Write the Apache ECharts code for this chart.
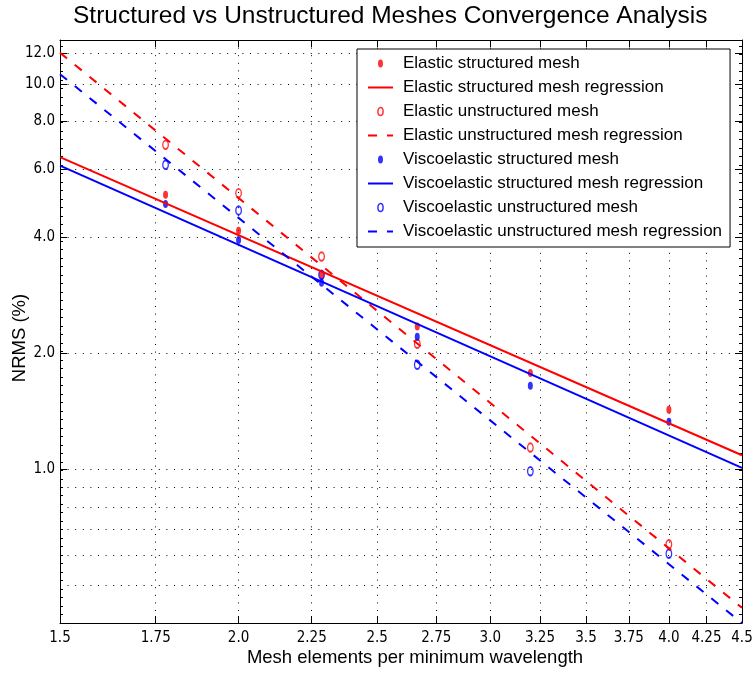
<!DOCTYPE html>
<html><head><meta charset="utf-8">
<script src="https://cdn.jsdelivr.net/npm/echarts@6/dist/echarts.min.js"></script>
<style>html,body{margin:0;padding:0;background:#fff}#c{width:752px;height:680px}</style>
</head><body><div id="c"></div>
<script>
// ---- data ----
const xValues = [1.778, 2.0, 2.286, 2.667, 3.2, 4.0];
const elasticStructured   = [5.16, 4.16, 3.20, 2.35, 1.78, 1.43];
const elasticUnstructured = [6.95, 5.21, 3.57, 2.12, 1.14, 0.64];
const viscoStructured     = [4.88, 3.94, 3.05, 2.21, 1.65, 1.33];
const viscoUnstructured   = [6.17, 4.70, 3.20, 1.87, 0.99, 0.605];
const fitX = [1.5, 4.5];
const elasticStructuredFit   = [6.46, 1.089];
const elasticUnstructuredFit = [12.05, 0.438];
const viscoStructuredFit     = [6.14, 1.01];
const viscoUnstructuredFit   = [10.6, 0.40];
const xTickValues = [1.5, 1.75, 2.0, 2.25, 2.5, 2.75, 3.0, 3.25, 3.5, 3.75, 4.0, 4.25, 4.5];
const xTickLabels = ['1.5','1.75','2.0','2.25','2.5','2.75','3.0','3.25','3.5','3.75','4.0','4.25','4.5'];
const yTickValues = [1, 2, 4, 6, 8, 10, 12];
const yTickLabels = ['1.0','2.0','4.0','6.0','8.0','10.0','12.0'];
const yMinorGridValues = [0.5, 0.6, 0.7, 0.8, 0.9];
const xRange = [1.5, 4.5];
const yRange = [0.4, 13];
const seriesNames = [
  'Elastic structured mesh',
  'Elastic structured mesh regression',
  'Elastic unstructured mesh',
  'Elastic unstructured mesh regression',
  'Viscoelastic structured mesh',
  'Viscoelastic structured mesh regression',
  'Viscoelastic unstructured mesh',
  'Viscoelastic unstructured mesh regression'
];

// ---- build ----
const L = Math.log10;
const RED = '#ff0000', BLUE = '#0000ff';
const SANS = "'Liberation Sans', Arial, Helvetica, sans-serif";
const NARROW = "'Liberation Sans Narrow', 'DejaVu Sans Condensed', 'Liberation Sans', sans-serif";
const FILLED = 'path://M0,4A2.5,4 0 1,1 5,4A2.5,4 0 1,1 0,4Z';
const OPEN = 'path://M0,4.25A2.75,4.25 0 1,1 5.5,4.25A2.75,4.25 0 1,1 0,4.25Z';
const pts = (xs, ys) => xs.map((x, i) => [L(x), L(ys[i])]);
const xTickLogs = xTickValues.map(L);
const yTickLogs = yTickValues.map(L);
const yGridLogs = yMinorGridValues.concat(yTickValues).map(L);
const lab = (logs, labels) => v => {
  const i = logs.findIndex(t => Math.abs(t - v) < 1e-6);
  return i >= 0 ? labels[i] : '';
};
const dotted = {color: '#000', width: 1, type: [1, 6.6]};
const blackLine = {color: '#000', width: 1};

function filled(name, ys, c) {
  return {type: 'scatter', name, data: pts(xValues, ys), symbol: 'circle', symbolSize: [5, 8],
    itemStyle: {color: c}};
}
function open(name, ys, c) {
  return {type: 'scatter', name, data: pts(xValues, ys), symbol: 'circle', symbolSize: [5.5, 8.5],
    itemStyle: {color: 'rgba(0,0,0,0)', borderColor: c, borderWidth: 1.6}};
}
function fit(name, ys, c, dashed) {
  return {type: 'line', name, data: pts(fitX, ys), symbol: 'none', showSymbol: false,
    itemStyle: {color: c},
    lineStyle: {color: c, width: 2, type: dashed ? [9, 10] : 'solid'}};
}

const series = [
  filled(seriesNames[0], elasticStructured, RED),
  fit(seriesNames[1], elasticStructuredFit, RED, false),
  open(seriesNames[2], elasticUnstructured, RED),
  fit(seriesNames[3], elasticUnstructuredFit, RED, true),
  filled(seriesNames[4], viscoStructured, BLUE),
  fit(seriesNames[5], viscoStructuredFit, BLUE, false),
  open(seriesNames[6], viscoUnstructured, BLUE),
  fit(seriesNames[7], viscoUnstructuredFit, BLUE, true)
];

const legendData = seriesNames.map((n, i) => {
  const c = i < 4 ? RED : BLUE;
  if (i % 4 === 0) return {name: n, icon: FILLED, itemStyle: {color: c, borderWidth: 0}};
  if (i % 4 === 2) return {name: n, icon: OPEN, itemStyle: {color: 'rgba(0,0,0,0)', borderColor: c, borderWidth: 1.5}};
  return {name: n, itemStyle: {color: 'rgba(0,0,0,0)', borderWidth: 0, opacity: 0}};
});

const xMin = L(xRange[0]), xMax = L(xRange[1]);
const yMin = L(yRange[0]), yMax = L(yRange[1]);

const option = {
  animation: false,
  backgroundColor: '#fff',
  title: {
    text: 'Structured vs Unstructured Meshes Convergence Analysis',
    left: 73, top: 4, padding: 0,
    textStyle: {fontFamily: SANS, fontSize: 24.5, fontWeight: 'normal', color: '#000'}
  },
  legend: {
    data: legendData,
    orient: 'vertical',
    left: 357, top: 49,
    padding: [6, 8, 7, 10],
    itemWidth: 25, itemHeight: 8, itemGap: 7,
    backgroundColor: '#fff', borderColor: '#000', borderWidth: 1,
    textStyle: {fontFamily: SANS, fontSize: 17, color: '#000', padding: [0, 0, 0, 5]},
    selectedMode: false
  },
  grid: {left: 60, right: 10, top: 40, bottom: 57, outerBoundsMode: 'none', containLabel: false},
  xAxis: [
    {
      type: 'value', position: 'bottom', min: xMin, max: xMax,
      axisLine: {show: true, onZero: false, lineStyle: blackLine},
      axisTick: {show: true, inside: true, length: 7, customValues: xTickLogs, lineStyle: blackLine},
      axisLabel: {show: true, customValues: xTickLogs, formatter: lab(xTickLogs, xTickLabels),
        margin: 8, color: '#000', fontFamily: NARROW, fontSize: 15},
      splitLine: {show: true, lineStyle: dotted},
      name: 'Mesh elements per minimum wavelength', nameLocation: 'middle', nameGap: 25,
      nameMoveOverlap: false,
      nameTextStyle: {fontFamily: SANS, fontSize: 18.5, color: '#000', padding: [0, 0, 0, 28]}
    },
    {
      type: 'value', position: 'top', min: xMin, max: xMax,
      axisLine: {show: true, onZero: false, lineStyle: blackLine},
      axisTick: {show: true, inside: true, length: 7, customValues: xTickLogs, lineStyle: blackLine},
      axisLabel: {show: false}, splitLine: {show: false}
    }
  ],
  yAxis: [
    {
      type: 'value', position: 'left', min: yMin, max: yMax,
      axisLine: {show: true, onZero: false, lineStyle: blackLine},
      axisTick: {show: false, customValues: yGridLogs},
      axisLabel: {show: true, customValues: yTickLogs, formatter: lab(yTickLogs, yTickLabels),
        margin: 5, color: '#000', fontFamily: NARROW, fontSize: 15},
      splitLine: {show: true, lineStyle: dotted},
      name: 'NRMS (%)', nameLocation: 'middle', nameGap: 31,
      nameMoveOverlap: false,
      nameTextStyle: {fontFamily: SANS, fontSize: 18.5, color: '#000', padding: [0, 13, 0, 0]}
    },
    {
      type: 'value', position: 'left', min: yMin, max: yMax,
      axisLine: {show: false, onZero: false},
      axisTick: {show: true, inside: true, length: 7, customValues: yTickLogs, lineStyle: blackLine},
      axisLabel: {show: false}, splitLine: {show: false}
    },
    {
      type: 'value', position: 'left', min: yMin, max: yMax, interval: 0.022,
      axisLine: {show: false, onZero: false},
      axisTick: {show: true, inside: true, length: 3, lineStyle: blackLine},
      axisLabel: {show: false}, splitLine: {show: false}
    },
    {
      type: 'value', position: 'right', min: yMin, max: yMax,
      axisLine: {show: true, onZero: false, lineStyle: blackLine},
      axisTick: {show: true, inside: true, length: 7, customValues: yTickLogs, lineStyle: blackLine},
      axisLabel: {show: false}, splitLine: {show: false}
    },
    {
      type: 'value', position: 'right', min: yMin, max: yMax, interval: 0.022,
      axisLine: {show: false, onZero: false},
      axisTick: {show: true, inside: true, length: 3, lineStyle: blackLine},
      axisLabel: {show: false}, splitLine: {show: false}
    }
  ],
  series: series
};

const chart = echarts.init(document.getElementById('c'), null, {renderer: 'canvas'});
chart.setOption(option);
</script>
</body></html>
